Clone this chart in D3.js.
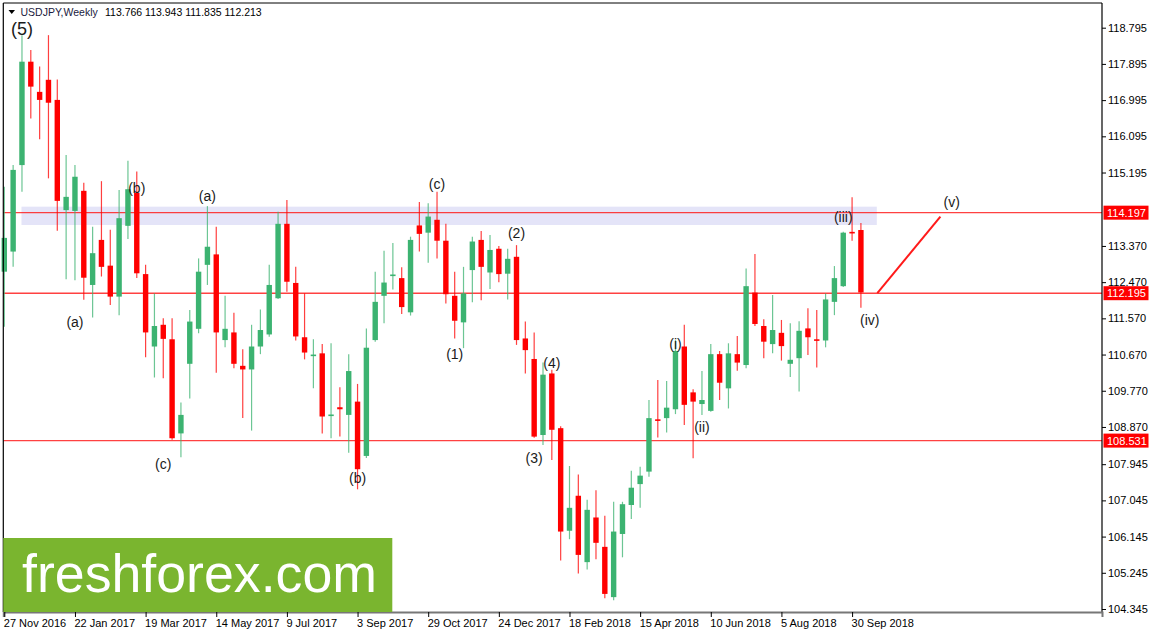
<!DOCTYPE html>
<html><head><meta charset="utf-8">
<script src="https://cdnjs.cloudflare.com/ajax/libs/d3/7.8.5/d3.min.js"></script>
<style>body{margin:0;background:#fff;} svg{display:block;} text{font-family:"Liberation Sans",Arial,sans-serif;}</style>
</head><body><svg id="c" width="1149" height="636"></svg>
<script>
// ---------------- DATA ----------------
const symbol = "USDJPY,Weekly";
const firstWeek = "2016-11-27";
const opens = [112.73,113.23,115.38,117.95,117.20,117.50,117.00,114.26,114.24,114.74,112.40,113.52,112.88,112.11,113.87,114.69,112.67,110.87,111.41,111.05,108.71,110.44,111.31,112.90,113.16,111.03,111.22,110.39,110.30,110.87,111.17,112.07,113.92,112.45,111.10,110.65,110.70,109.16,109.36,109.17,109.50,108.15,111.03,112.13,112.64,112.57,111.72,113.88,113.70,114.02,113.50,112.13,111.47,112.77,113.52,112.71,113.30,112.68,113.10,111.07,110.56,108.67,110.20,108.84,106.29,107.16,105.51,106.62,105.89,104.64,106.21,106.93,107.45,107.76,109.06,109.09,109.31,110.87,109.73,109.44,109.27,110.68,109.83,110.68,110.41,112.21,111.38,110.93,111.21,110.44,110.58,111.32,111.05,111.02,111.98,112.37,113.72,113.766];
const highs = [114.84,115.38,118.61,118.24,117.83,118.61,117.51,115.63,115.38,114.94,113.85,114.98,113.77,114.76,115.49,115.22,112.90,112.19,111.57,111.57,109.48,111.78,113.06,114.36,113.85,112.13,111.71,110.80,111.41,111.79,112.90,114.22,114.51,112.85,112.19,111.05,110.93,110.95,109.86,110.68,109.94,111.32,112.73,113.25,113.44,112.84,113.60,114.46,114.43,114.72,113.92,112.73,112.85,113.60,113.74,113.64,113.37,113.30,113.39,111.49,111.22,110.47,110.29,108.89,107.90,107.69,107.06,107.30,106.66,107.01,107.01,107.78,107.88,109.54,110.04,110.01,111.03,111.41,109.81,110.26,110.93,110.76,110.95,111.13,112.81,113.17,111.55,112.15,111.53,111.45,111.50,111.82,111.78,112.19,112.87,113.72,114.58,113.943];
const lows = [111.36,112.85,114.72,116.54,116.02,115.05,113.75,112.54,112.52,112.03,111.59,112.61,111.90,111.65,113.54,112.57,110.60,110.10,110.08,108.55,108.12,109.58,111.20,112.40,110.22,110.85,110.33,109.09,108.78,110.68,111.11,112.05,112.23,111.02,110.55,109.83,108.71,108.59,108.63,108.23,107.32,108.10,110.99,111.45,112.29,111.68,111.64,113.23,112.95,113.06,111.94,111.07,110.83,111.97,112.02,112.30,112.47,112.04,110.91,110.20,108.60,108.42,108.05,105.55,106.08,105.23,105.33,105.58,104.61,104.56,105.63,106.58,106.86,107.63,108.61,108.73,109.19,108.92,108.09,109.17,109.25,109.54,109.33,110.27,110.33,111.38,110.58,110.70,110.52,110.11,109.75,110.66,110.35,110.85,111.65,112.35,113.50,111.835];
const closes = [113.57,115.26,117.95,117.33,117.00,116.93,114.49,114.59,115.09,112.58,113.19,112.85,112.11,114.06,114.78,112.69,111.22,111.38,111.06,108.59,109.17,111.49,112.73,113.35,111.22,111.31,110.44,110.30,110.87,111.28,112.40,113.92,112.48,111.12,110.72,110.67,109.13,109.18,109.31,110.26,107.82,110.84,111.98,112.46,112.66,111.85,113.52,113.67,114.10,113.50,112.17,111.51,112.19,113.48,112.85,113.27,112.67,113.05,111.03,110.78,108.63,110.17,108.80,106.27,106.86,105.69,106.81,105.99,104.72,106.27,106.95,107.36,107.66,109.09,109.03,109.35,110.76,109.42,109.50,109.54,110.68,109.97,110.70,110.47,112.37,111.43,110.99,111.28,110.88,110.54,111.26,111.10,111.02,112.04,112.57,113.70,113.69,112.213];
const priceTicks = [118.795,117.895,116.995,116.095,115.195,113.370,112.470,111.570,110.670,109.770,108.870,107.945,107.045,106.145,105.245,104.345];
const dateTicks = ["2016-11-27","2017-01-22","2017-03-19","2017-05-14","2017-07-09","2017-09-03","2017-10-29","2017-12-24","2018-02-18","2018-04-15","2018-06-10","2018-08-05","2018-09-30"];
const dateTickLabels = ["27 Nov 2016","22 Jan 2017","19 Mar 2017","14 May 2017","9 Jul 2017","3 Sep 2017","29 Oct 2017","24 Dec 2017","18 Feb 2018","15 Apr 2018","10 Jun 2018","5 Aug 2018","30 Sep 2018"];
const levels = [114.197, 112.195, 108.531];
const zone = {from:"2016-12-11", to:"2018-10-20", top:114.346, bottom:113.89};
const projection = [{date:"2018-10-20", price:112.195},{date:"2018-12-09", price:114.10}];
const waveLabels = [
  {t:"(5)", date:"2016-12-11", price:118.76, big:true},
  {t:"(a)", date:"2017-01-22", price:111.47},
  {t:"(b)", date:"2017-03-12", price:114.82},
  {t:"(a)", date:"2017-05-07", price:114.61},
  {t:"(c)", date:"2017-04-02", price:107.96},
  {t:"(b)", date:"2017-09-03", price:107.59},
  {t:"(c)", date:"2017-11-05", price:114.91},
  {t:"(1)", date:"2017-11-19", price:110.69},
  {t:"(2)", date:"2018-01-07", price:113.68},
  {t:"(3)", date:"2018-01-21", price:108.10},
  {t:"(4)", date:"2018-02-04", price:110.45},
  {t:"(i)", date:"2018-05-13", price:110.93},
  {t:"(ii)", date:"2018-06-03", price:108.87},
  {t:"(iii)", date:"2018-09-23", price:114.10},
  {t:"(iv)", date:"2018-10-14", price:111.52},
  {t:"(v)", date:"2018-12-18", price:114.47}
];
const ohlcText = "113.766 113.943 111.835 112.213";
const watermark = "freshforex.com";

// ---------------- CHART ----------------
const W = 1149, H = 636;
const L = 3.3, R = 1102, T = 3, B = 612;
const DAY = 86400000;
const parse = s => new Date(s + "T00:00:00Z");
const t0 = parse(firstWeek);
const data = opens.map((o,i)=>({d:new Date(+t0 + i*7*DAY), o, h:highs[i], l:lows[i], c:closes[i]}));

const x = d3.scaleUtc()
  .domain([new Date(+t0 - 0.8*DAY), new Date(+t0 + 124.3*7*DAY)])
  .range([L, R]);
const y = d3.scaleLinear().domain([104.345, 118.795]).range([609, 27.7]);

const svg = d3.select("#c");
svg.append("rect").attr("width",W).attr("height",H).attr("fill","#fff");

// zone
svg.append("rect")
  .attr("x", x(parse(zone.from)) - 0.5).attr("y", y(zone.top))
  .attr("width", x(parse(zone.to)) - x(parse(zone.from)))
  .attr("height", y(zone.bottom) - y(zone.top))
  .attr("fill", "#e4e4f8");

// level lines
svg.selectAll("line.lvl").data(levels).enter().append("line")
  .attr("x1", L).attr("x2", R).attr("y1", d=>y(d)).attr("y2", d=>y(d))
  .attr("stroke", "#ff2020").attr("stroke-width", 1.4).attr("opacity",0.85);

// candles
const green = "#3cb371", red = "#ff0000";
const g = svg.append("g");
const bw = 5.4;
const cg = g.selectAll("g.c").data(data).enter().append("g");
cg.append("line")
  .attr("x1", d=>x(d.d)).attr("x2", d=>x(d.d))
  .attr("y1", d=>y(d.h)).attr("y2", d=>y(d.l))
  .attr("stroke", d=> d.c>=d.o ? green : red).attr("stroke-width", 1.2).attr("opacity",0.75);
cg.append("rect")
  .attr("x", d=>x(d.d)-bw/2).attr("width", bw)
  .attr("y", d=>y(Math.max(d.o,d.c)))
  .attr("height", d=>Math.max(1.6, Math.abs(y(d.o)-y(d.c))))
  .attr("fill", d=> d.c>=d.o ? green : red);

// projection line
svg.append("line")
  .attr("x1", x(parse(projection[0].date))).attr("y1", y(projection[0].price))
  .attr("x2", x(parse(projection[1].date))).attr("y2", y(projection[1].price))
  .attr("stroke", "#ff1a1a").attr("stroke-width", 2);

// wave labels
svg.selectAll("text.w").data(waveLabels).enter().append("text")
  .attr("x", d=>x(parse(d.date))).attr("y", d=>y(d.price))
  .attr("text-anchor","middle").attr("dominant-baseline","central")
  .attr("font-size", d=>d.big?18:14).attr("fill","#1a1a1a")
  .text(d=>d.t);

// frame
svg.append("line").attr("x1",L).attr("x2",L).attr("y1",T).attr("y2",B).attr("stroke","#000").attr("stroke-width",1.2);
svg.append("line").attr("x1",L).attr("x2",R).attr("y1",T).attr("y2",T).attr("stroke","#000").attr("stroke-width",1);
svg.append("line").attr("x1",R).attr("x2",R).attr("y1",T).attr("y2",B).attr("stroke","#000").attr("stroke-width",1.2);

// right axis
const yAxis = d3.axisRight(y).tickValues(priceTicks).tickFormat(d3.format(".3f")).tickSize(4).tickPadding(2);
const ya = svg.append("g").attr("transform",`translate(${R},0)`).call(yAxis);
ya.select(".domain").remove();
ya.selectAll("text").attr("font-size",11).attr("fill","#000").attr("font-family","Liberation Sans, Arial, sans-serif");
ya.selectAll("line").attr("stroke","#000");

// level price boxes
const lb = svg.selectAll("g.lb").data(levels).enter().append("g");
lb.append("rect").attr("x",R+1.5).attr("y",d=>y(d)-7).attr("width",45).attr("height",14).attr("fill","#ff0000");
lb.append("text").attr("x",R+5).attr("y",d=>y(d)).attr("dominant-baseline","central")
  .attr("font-size",11).attr("fill","#fff").text(d=>d.toFixed(3));

// bottom axis
const xAxis = d3.axisBottom(x).tickValues(dateTicks.map(parse)).tickFormat((d,i)=>dateTickLabels[i]).tickSize(5).tickPadding(2);
const xa = svg.append("g").attr("transform",`translate(0,${B})`).call(xAxis);
xa.select(".domain").attr("stroke","#777").attr("stroke-width",2);
xa.selectAll("text").attr("font-size",11).attr("fill","#000").attr("text-anchor","start").attr("dx",-1)
  .attr("font-family","Liberation Sans, Arial, sans-serif");
xa.selectAll("line").attr("stroke","#000");

// watermark
svg.append("rect").attr("x",L).attr("y",538).attr("width",389).attr("height",B-538).attr("fill","#7ab52f");
svg.append("text").attr("x",22).attr("y",592).attr("font-size",54).attr("fill","#fff")
  .attr("textLength",355).attr("lengthAdjust","spacingAndGlyphs")
  .attr("font-family","Open Sans, Liberation Sans, sans-serif").text(watermark);

// header
svg.append("path").attr("d","M8.5,10 L15,10 L11.75,14 Z").attr("fill","#000");
svg.append("text").attr("x",20.5).attr("y",16).attr("font-size",10.5).attr("fill","#1a1a40").text(symbol);
svg.append("text").attr("x",105).attr("y",16).attr("font-size",10.5).attr("fill","#000").text(ohlcText);
</script></body></html>
